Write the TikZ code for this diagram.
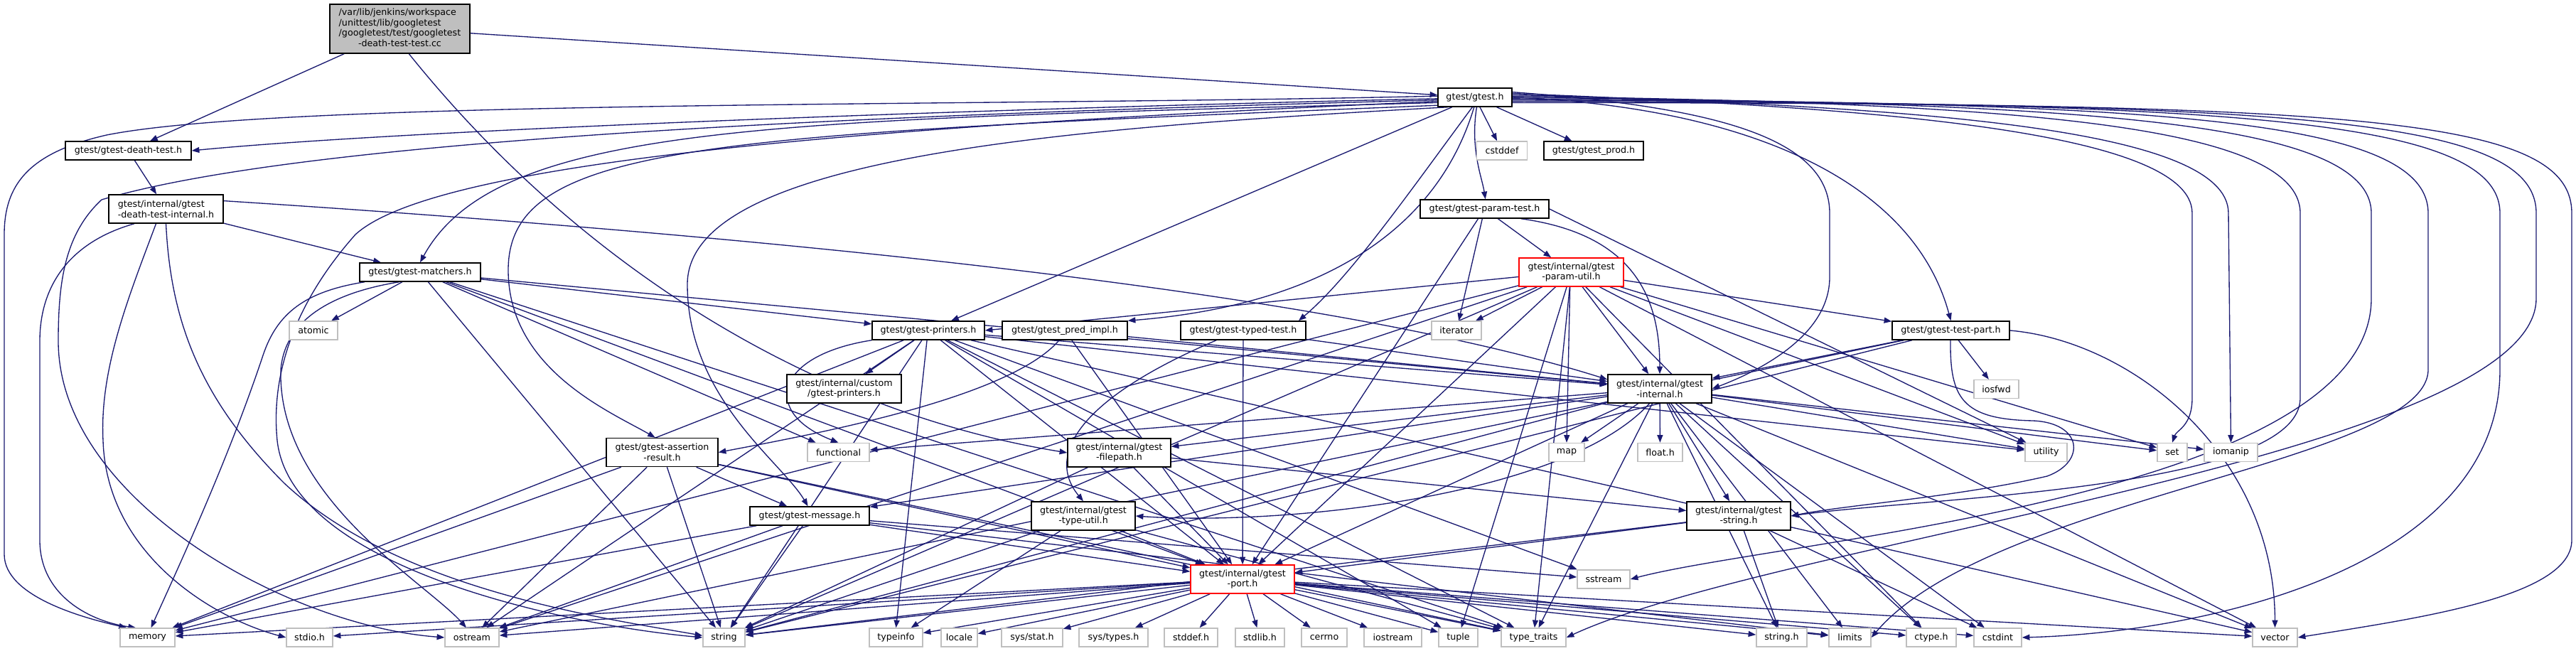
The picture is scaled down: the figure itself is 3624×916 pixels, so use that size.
\documentclass[tikz,border=0pt]{standalone}
\usepackage{fontspec}
\setmainfont{DejaVu Sans}
\usetikzlibrary{arrows.meta, backgrounds}
\definecolor{edgeblue}{HTML}{191970}
\definecolor{sysgray}{HTML}{BFBFBF}
\tikzset{
  hdr/.style={draw=black, line width=1.1pt, fill=white, inner sep=1pt,
    font=\fontsize{9.5}{11}\selectfont, align=center, minimum height=19.5pt},
  sys/.style={hdr, draw=sysgray},
  redhdr/.style={hdr, draw=red},
  srcbox/.style={hdr, fill=sysgray, minimum height=51.75pt},
  two/.style={minimum height=30pt},
  bw/.style={minimum width=#1*0.75pt},
  dep/.style={draw=edgeblue, line width=1pt, -{Triangle[length=8pt,width=6pt]}},
}
\begin{document}
\begin{tikzpicture}[x=0.75pt, y=-0.75pt]
  \useasboundingbox (0,0) rectangle (3624,916);
  % ---- the test file ----
  \node[srcbox, bw=197] (src) at (562.5,40.5) {\begin{tabular}{@{}l@{}}/var/lib/jenkins/workspace\\/unittest/lib/googletest\\/googletest/test/googletest\\\multicolumn{1}{@{}c@{}}{-death-test-test.cc}\end{tabular}};
  % ---- project headers ----
  \node[hdr, bw=104] (gtest) at (2075,137) {gtest/gtest.h};
  \node[hdr, bw=177] (deathtest) at (180.5,212) {gtest/gtest-death-test.h};
  \node[hdr, two, bw=161, align=left] (dtinternal) at (233.5,294) {gtest/internal/gtest\\-death-test-internal.h};
  \node[hdr, bw=170] (matchers) at (591,383) {gtest/gtest-matchers.h};
  \node[hdr, bw=140] (prod) at (2242,212) {gtest/gtest\_prod.h};
  \node[hdr, bw=181] (paramtest) at (2088.5,294) {gtest/gtest-param-test.h};
  \node[redhdr, two, bw=147] (paramutil) at (2210.5,383) {gtest/internal/gtest\\-param-util.h};
  \node[hdr, bw=158] (printers) at (1306,465) {gtest/gtest-printers.h};
  \node[hdr, bw=176] (predimpl) at (1498,465) {gtest/gtest\_pred\_impl.h};
  \node[hdr, bw=176] (typedtest) at (1749,465) {gtest/gtest-typed-test.h};
  \node[hdr, bw=165] (testpart) at (2744.5,465) {gtest/gtest-test-part.h};
  \node[hdr, two, bw=161] (custom) at (1187.5,547) {gtest/internal/custom\\/gtest-printers.h};
  \node[hdr, two, bw=146] (internal) at (2335,547) {gtest/internal/gtest\\-internal.h};
  \node[hdr, two, bw=157] (assertion) at (931.5,636.5) {gtest/gtest-assertion\\-result.h};
  \node[hdr, two, bw=145] (filepath) at (1574.5,637) {gtest/internal/gtest\\-filepath.h};
  \node[hdr, bw=168] (message) at (1139,726) {gtest/gtest-message.h};
  \node[hdr, two, bw=146] (typeutil) at (1524,726) {gtest/internal/gtest\\-type-util.h};
  \node[hdr, two, bw=146] (gstring) at (2446,726) {gtest/internal/gtest\\-string.h};
  \node[redhdr, two, bw=146] (port) at (1748,815) {gtest/internal/gtest\\-port.h};
  % ---- system headers ----
  \node[sys, bw=68] (atomic) at (441,465) {atomic};
  \node[sys, bw=71] (cstddef) at (2113,212) {cstddef};
  \node[sys, bw=70] (iterator) at (2049,465) {iterator};
  \node[sys, bw=63] (iosfwd) at (2808.5,547.5) {iosfwd};
  \node[sys, bw=87] (functional) at (1179.5,636.5) {functional};
  \node[sys, bw=50] (map) at (2204,636.5) {map};
  \node[sys, bw=63] (floath) at (2335.5,636.5) {float.h};
  \node[sys, bw=59] (utility) at (2878.5,636.5) {utility};
  \node[sys, bw=42] (set) at (3056,636.5) {set};
  \node[sys, bw=75] (iomanip) at (3138.5,636.5) {iomanip};
  \node[sys, bw=74] (sstream) at (2256,815) {sstream};
  \node[sys, bw=77] (memory) at (207.5,897) {memory};
  \node[sys, bw=65] (stdioh) at (435.5,897) {stdio.h};
  \node[sys, bw=76] (ostream) at (664,897) {ostream};
  \node[sys, bw=59] (string) at (1018.5,897) {string};
  \node[sys, bw=75] (typeinfo) at (1260.5,897) {typeinfo};
  \node[sys, bw=51] (locale) at (1349.5,897) {locale};
  \node[sys, bw=86] (sysstat) at (1452,897) {sys/stat.h};
  \node[sys, bw=97] (systypes) at (1566.5,897) {sys/types.h};
  \node[sys, bw=75] (stddefh) at (1675.5,897) {stddef.h};
  \node[sys, bw=69] (stdlibh) at (1772.5,897) {stdlib.h};
  \node[sys, bw=64] (cerrno) at (1863,897) {cerrno};
  \node[sys, bw=81] (iostream) at (1959.5,897) {iostream};
  \node[sys, bw=55] (tuple) at (2051.5,897) {tuple};
  \node[sys, bw=91] (typetraits) at (2157.5,897) {type\_traits};
  \node[sys, bw=71] (stringh) at (2506.5,897) {string.h};
  \node[sys, bw=59] (limits) at (2602.5,897) {limits};
  \node[sys, bw=70] (ctypeh) at (2717,897) {ctype.h};
  \node[sys, bw=67] (cstdint) at (2810.5,897) {cstdint};
  \node[sys, bw=63] (vector) at (3200.5,897) {vector};

  \begin{scope}[on background layer]
  % ---- includes of the test file ----
  \draw[dep] (src) -- (deathtest);
  \draw[dep] (src) -- (gtest);
  \draw[dep] (src.290) .. controls (820,380) and (1150,580) .. (filepath.west);
  % ---- gtest.h, to the left ----
  \draw[dep] (gtest.182) .. controls (1500,150) and (600,180) .. (deathtest.east);
  \draw[dep] (gtest.178) .. controls (1400,150) and (400,140) .. (150,190) .. controls (40,215) and (6,260) .. (6,330) -- (6,780) .. controls (6,840) and (120,870) .. (memory.155);
  \draw[dep] (gtest.184) .. controls (1300,160) and (450,190) .. (143,281) .. controls (90,330) and (82,400) .. (82,480) .. controls (82,700) and (400,880) .. (ostream.west);
  \draw[dep] (gtest.186) .. controls (1300,175) and (620,220) .. (500,330) .. controls (420,420) and (380,520) .. (390,620) .. controls (410,800) and (800,880) .. (string.west);
  \draw[dep] (gtest.188) .. controls (1100,170) and (700,170) .. (matchers.north);
  \draw[dep] (gtest.192) .. controls (1000,190) and (715,200) .. (715,380) .. controls (715,520) and (860,580) .. (assertion.115);
  \draw[dep] (gtest.200) .. controls (1500,180) and (967,220) .. (967,400) .. controls (967,560) and (1100,650) .. (message.100);
  \draw[dep] (gtest) -- (printers);
  \draw[dep] (gtest.265) .. controls (2020,330) and (1850,430) .. (predimpl.north east);
  \draw[dep] (gtest.255) .. controls (1990,260) and (1900,390) .. (typedtest.10);
  \draw[dep] (gtest.280) .. controls (2068,210) and (2085,250) .. (paramtest.85);
  \draw[dep] (gtest) -- (cstddef);
  \draw[dep] (gtest) -- (prod);
  % ---- gtest.h, to the right ----
  \draw[dep] (gtest.east) .. controls (2450,150) and (2690,250) .. (testpart.north);
  \draw[dep] (gtest.8) .. controls (2400,150) and (2574,190) .. (2574,300) -- (2574,390) .. controls (2574,470) and (2480,520) .. (internal.east);
  \draw[dep] (gtest.6) .. controls (2600,150) and (3084,180) .. (3084,300) -- (3084,560) .. controls (3084,600) and (3062,605) .. (set.north);
  \draw[dep] (gtest.4) .. controls (2700,150) and (3135,180) .. (3135,300) -- (iomanip.north);
  \draw[dep] (gtest.2) .. controls (2800,145) and (3236,170) .. (3236,300) -- (3236,560) .. controls (3236,690) and (2700,700) .. (gstring.east);
  \draw[dep] (gtest.0) .. controls (2900,145) and (3336,165) .. (3336,300) -- (3336,420) .. controls (3336,700) and (2500,760) .. (sstream.east);
  \draw[dep] (gtest.358) .. controls (3000,145) and (3416,160) .. (3416,300) -- (3416,520) .. controls (3416,650) and (2800,700) .. (limits.east);
  \draw[dep] (gtest.356) .. controls (3100,145) and (3517,160) .. (3517,300) -- (3517,520) .. controls (3517,800) and (3100,890) .. (cstdint.east);
  \draw[dep] (gtest.354) .. controls (3200,145) and (3568,160) .. (3568,300) -- (3568,420) .. controls (3568,640) and (2500,760) .. (typetraits.east);
  \draw[dep] (gtest.352) .. controls (3300,145) and (3618,160) .. (3618,300) -- (3618,760) .. controls (3618,840) and (3400,870) .. (vector.east);
  % ---- death test headers ----
  \draw[dep] (deathtest) -- (dtinternal);
  \draw[dep] (dtinternal) -- (matchers);
  \draw[dep] (dtinternal.8) .. controls (1200,340) and (1900,420) .. (internal.170);
  \draw[dep] (dtinternal.205) .. controls (100,340) and (56,400) .. (56,480) -- (56,760) .. controls (56,840) and (130,875) .. (memory.140);
  \draw[dep] (dtinternal.236) .. controls (180,420) and (140,520) .. (145,620) .. controls (150,780) and (300,870) .. (stdioh.west);
  \draw[dep] (dtinternal.south) .. controls (240,450) and (280,560) .. (400,680) .. controls (560,830) and (850,870) .. (string.175);
  % ---- gtest-matchers.h ----
  \draw[dep] (matchers.190) .. controls (430,410) and (390,440) .. (370,500) .. controls (320,650) and (250,800) .. (memory.70);
  \draw[dep] (matchers.205) .. controls (450,415) and (400,460) .. (395,520) .. controls (390,700) and (600,820) .. (ostream.120);
  \foreach \t in {atomic, functional, string, typetraits, printers, internal, port}
    \draw[dep] (matchers) -- (\t);
  % ---- gtest-param-test.h and gtest-param-util.h ----
  \draw[dep] (paramtest) -- (iterator);
  \draw[dep] (paramtest) -- (paramutil);
  \draw[dep] (paramtest.345) .. controls (2300,330) and (2335,420) .. (internal.north);
  \draw[dep] (paramtest.east) -- (utility);
  \draw[dep] (paramtest) -- (port);
  \draw[dep] (paramutil.185) -- (printers.east);
  \draw[dep] (paramutil.265) -- (map.north);
  \foreach \t in {memory, ostream, string, testpart, internal, port, iterator, tuple, typetraits, set, utility, vector, ctypeh}
    \draw[dep] (paramutil) -- (\t);
  % ---- gtest-printers.h ----
  \draw[dep] (printers) -- (custom);
  \draw[dep] (printers.south west) .. controls (1090,500) and (1070,580) .. (functional.north);
  \draw[dep] (printers.262) -- (typeinfo.north);
  \foreach \t in {memory, ostream, string, sstream, tuple, typetraits, utility, vector, internal, port}
    \draw[dep] (printers) -- (\t);
  % ---- gtest_pred_impl.h, gtest-typed-test.h ----
  \draw[dep] (predimpl.240) .. controls (1420,560) and (1150,610) .. (assertion.east);
  \draw[dep] (predimpl) -- (internal);
  \draw[dep] (predimpl) -- (port);
  \draw[dep] (typedtest) -- (internal);
  \draw[dep] (typedtest) -- (port);
  \draw[dep] (typedtest.200) .. controls (1520,560) and (1470,640) .. (typeutil.north);
  % ---- gtest-test-part.h ----
  \draw[dep] (testpart) -- (iosfwd);
  \draw[dep] (testpart) -- (ostream);
  \draw[dep] (testpart) -- (string);
  \draw[dep] (testpart) -- (internal);
  \draw[dep] (testpart.east) .. controls (3000,480) and (3200,640) .. (vector.north);
  \draw[dep] (testpart.268) .. controls (2743,560) and (2760,590) .. (2860,592) .. controls (2930,595) and (2935,650) .. (2880,670) .. controls (2750,700) and (2600,710) .. (gstring.east);
  % ---- gtest-assertion-result.h, gtest-message.h ----
  \foreach \t in {memory, ostream, string, typetraits, message, port}
    \draw[dep] (assertion) -- (\t);
  \foreach \t in {limits, memory, ostream, sstream, string, port}
    \draw[dep] (message) -- (\t);
  % ---- gtest-internal.h ----
  \draw[dep] (internal.235) .. controls (2200,700) and (1800,740) .. (typeutil.east);
  \foreach \t in {port, ctypeh, floath, stringh, cstdint, functional, iomanip, limits, map, set, string, typetraits, utility, vector, message, filepath, gstring}
    \draw[dep] (internal) -- (\t);
  % ---- filepath, type-util, string ----
  \foreach \t in {string, port, gstring}
    \draw[dep] (filepath) -- (\t);
  \foreach \t in {typeinfo, string, typetraits, port}
    \draw[dep] (typeutil) -- (\t);
  \foreach \t in {stringh, cstdint, string, port}
    \draw[dep] (gstring) -- (\t);
  % ---- gtest-port.h ----
  \foreach \t in {memory, stdioh, ostream, string, typeinfo, locale, sysstat, systypes, stddefh, stdlibh, cerrno, iostream, tuple, typetraits, stringh, limits, ctypeh, cstdint, vector}
    \draw[dep] (port) -- (\t);
  \end{scope}
\end{tikzpicture}
\end{document}
